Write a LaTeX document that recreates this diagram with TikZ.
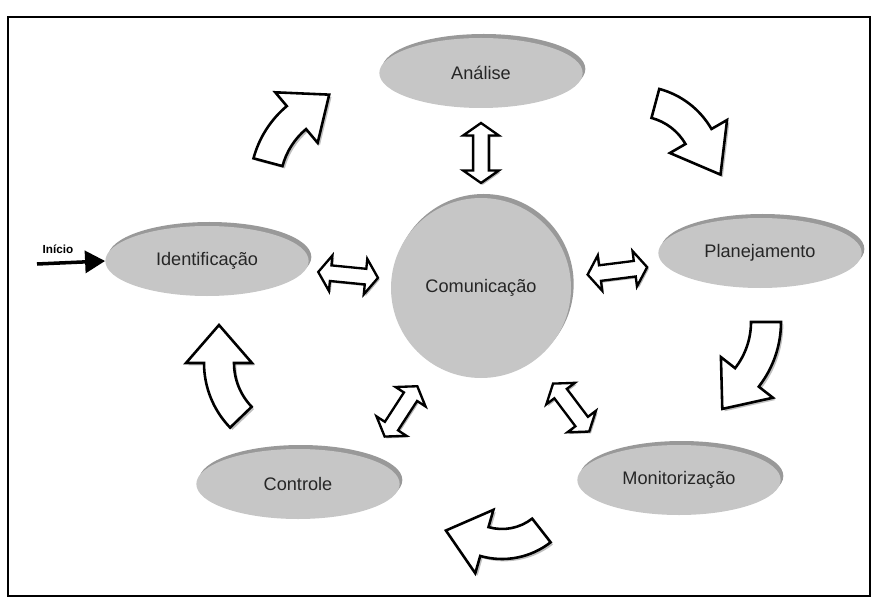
\documentclass[tikz,border=0pt]{standalone}
\usepackage{fontspec}
\setmainfont{Liberation Sans}
\usetikzlibrary{calc,shapes.geometric,shapes.arrows,shadows,arrows.meta}

\tikzset{
    etapa/.style={ellipse, fill=gray!45, inner sep=0pt, minimum width=6.1cm, minimum height=2.1cm,
        font=\fontsize{15.5}{18}\selectfont, text=black!85,
        general shadow={shadow xshift=0.08cm, shadow yshift=0.12cm, fill=gray!80}},
    dupla/.style={double arrow, draw=black, fill=white, line width=2pt, inner xsep=0pt, inner ysep=0.2cm,
        minimum height=1.8cm, double arrow head extend=0.3cm, double arrow tip angle=110,
        general shadow={shadow xshift=1.5pt, shadow yshift=-1.5pt, fill=gray!60}},
    curva/.style={draw=black, fill=white, line width=2.2pt,
        general shadow={shadow xshift=2pt, shadow yshift=-2pt, fill=gray!50}}
}

% bent block arrow: centre, radius, start angle, end angle, tip direction, head length
\newcommand{\setacurva}[6]{%
    \pgfmathsetmacro\rfora{#2+15}
    \pgfmathsetmacro\rdentro{#2-15}
    \pgfmathsetmacro\rbfora{#2+33}
    \pgfmathsetmacro\rbdentro{#2-33}
    \draw[curva] ($(#1)+(#3:\rfora)$) arc[start angle=#3, end angle=#4, radius=\rfora]
        -- ($(#1)+(#4:\rbfora)$) -- ($(#1)+(#4:#2)+(#5:#6)$) -- ($(#1)+(#4:\rbdentro)$)
        -- ($(#1)+(#4:\rdentro)$) arc[start angle=#4, end angle=#3, radius=\rdentro] -- cycle;
}

\begin{document}
\begin{tikzpicture}[x=0.03cm, y=0.03cm]
        \useasboundingbox (0,0) rectangle (879,608);

        % Frame
        \draw[line width=2pt] (8,591) rectangle (870,12);

        % Stages of the cycle
        \foreach \nome/\px/\py/\txt in {ana/481/535/Análise, pla/760/355/Planejamento,
            ide/207/347/Identificação, ctl/298/124/Controle, mon/679/128/Monitorização} {
            \node[etapa] (\nome) at (\px,\py) {\txt};
        }

        % Centre
        \node[etapa, circle, minimum size=5.4cm] (com) at (481,320) {Comunicação};

        % Two-way arrows to the centre
        \path (com) -- (ana) node[dupla, midway, sloped] {};
        \path (com) -- (ide) node[dupla, midway, sloped] {};
        \path (com) -- (pla) node[dupla, midway, sloped] {};
        \path (com) -- (ctl.north east) node[dupla, midway, sloped] {};
        \path (com) -- (mon.north west) node[dupla, midway, sloped] {};

        % Bent arrows round the cycle
        \coordinate (c1) at (353,423);
        \coordinate (c2) at (637,436);
        \coordinate (c3) at (676,286);
        \coordinate (c4) at (502,128);
        \coordinate (c5) at (297,245);
        \setacurva{c1}{88}{165}{130}{35}{40}
        \setacurva{c2}{71}{75}{30}{-60}{44}
        \setacurva{c3}{90}{0}{-38}{-128}{40}
        \setacurva{c4}{64}{308}{254}{164}{40}
        \setacurva{c5}{78}{224}{180}{90}{38}

        % Start
        \coordinate (inicio) at (37,344);
        \node[font=\bfseries\fontsize{10}{12}\selectfont] (rotulo) at (58,359) {Início};
        \draw[line width=3pt, -{Triangle[length=0.6cm, width=0.66cm]}] (inicio) -- (ide.west);
\end{tikzpicture}
\end{document}
